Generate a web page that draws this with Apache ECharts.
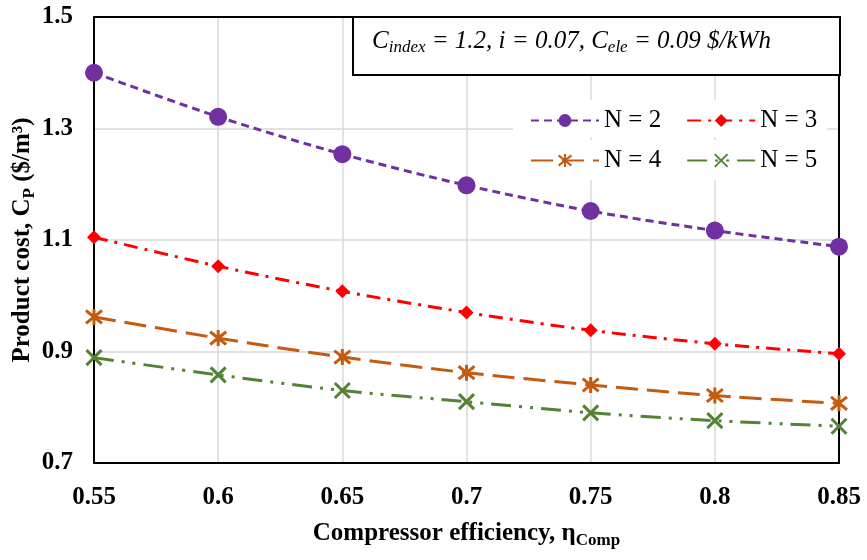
<!DOCTYPE html>
<html>
<head>
<meta charset="utf-8">
<script src="https://cdn.jsdelivr.net/npm/echarts@6/dist/echarts.min.js"></script>
<style>html,body{margin:0;padding:0;background:#fff;}#chart{width:867px;height:560px;}</style>
</head>
<body>
<div id="chart"></div>
<script>
var xValues = [0.55, 0.6, 0.65, 0.7, 0.75, 0.8, 0.85];
var seriesNames = ['N = 2', 'N = 3', 'N = 4', 'N = 5'];
var n2 = [1.400, 1.321, 1.254, 1.198, 1.152, 1.117, 1.088];
var n3 = [1.105, 1.053, 1.008, 0.970, 0.938, 0.914, 0.896];
var n4 = [0.962, 0.924, 0.890, 0.862, 0.840, 0.821, 0.807];
var n5 = [0.889, 0.858, 0.830, 0.810, 0.790, 0.776, 0.766];
var xTickLabels = ['0.55', '0.6', '0.65', '0.7', '0.75', '0.8', '0.85'];
var yTickLabels = ['0.7', '0.9', '1.1', '1.3', '1.5'];

var FONT = '"Liberation Serif", "Times New Roman", serif';
function pairs(arr) { return xValues.map(function (x, i) { return [x, arr[i]]; }); }

var chart = echarts.init(document.getElementById('chart'), null, {renderer: 'canvas'});

function mkSeries(name, arr, color, dash, symbol, size, filled) {
  return {
    name: name, type: 'line', data: pairs(arr), smooth: 0.3,
    xAxisIndex: 0, yAxisIndex: 0,
    symbol: symbol, symbolSize: size, showSymbol: true,
    lineStyle: {color: color, width: 3, type: dash},
    itemStyle: filled ? {color: color} : {color: color, borderColor: color, borderWidth: 3},
    emphasis: {disabled: true},
    z: 3
  };
}

var legendText = {fontFamily: FONT, fontSize: 25, color: '#000'};
var subStyle = {fontFamily: FONT, fontWeight: 'bold', fontSize: 17, lineHeight: 14, verticalAlign: 'bottom', color: '#000'};

var option = {
  animation: false,
  backgroundColor: '#fff',
  grid: {left: 94, right: 28, top: 17, bottom: 97, containLabel: false, outerBoundsMode: 'none'},
  xAxis: [{
    type: 'value', min: 0.55, max: 0.85, interval: 0.05,
    axisLine: {show: true, lineStyle: {color: '#000', width: 2}},
    axisTick: {show: false},
    splitLine: {show: true, lineStyle: {color: '#D9D9D9', width: 1.5}},
    axisLabel: {
      margin: 22, color: '#000', fontFamily: FONT, fontWeight: 'bold', fontSize: 25,
      formatter: function (v) { var i = Math.round((v - 0.55) / 0.05); return xTickLabels[i]; }
    },
    name: 'Compressor efficiency, η{s|Comp}',
    nameLocation: 'middle', nameGap: 56, nameMoveOverlap: false,
    nameTextStyle: {
      color: '#000', fontFamily: FONT, fontWeight: 'bold', fontSize: 25, lineHeight: 30,
      rich: {s: subStyle}
    }
  }, {
    type: 'value', min: 0.55, max: 0.85, position: 'top',
    axisLine: {show: true, onZero: false, lineStyle: {color: '#000', width: 2}},
    axisTick: {show: false}, axisLabel: {show: false}, splitLine: {show: false}
  }],
  yAxis: [{
    type: 'value', min: 0.7, max: 1.5, interval: 0.2,
    axisLine: {show: true, lineStyle: {color: '#000', width: 2}},
    axisTick: {show: false},
    splitLine: {show: true, lineStyle: {color: '#D9D9D9', width: 1.5}},
    axisLabel: {
      margin: 21, color: '#000', fontFamily: FONT, fontWeight: 'bold', fontSize: 25,
      formatter: function (v) { var i = Math.round((v - 0.7) / 0.2); return yTickLabels[i]; }
    },
    name: 'Product cost, C{s|P} ($/m³)',
    nameLocation: 'middle', nameGap: 56, nameRotate: 90, nameMoveOverlap: false,
    nameTextStyle: {
      color: '#000', fontFamily: FONT, fontWeight: 'bold', fontSize: 25, lineHeight: 30,
      rich: {s: subStyle}
    }
  }, {
    type: 'value', min: 0.7, max: 1.5, position: 'right',
    axisLine: {show: true, onZero: false, lineStyle: {color: '#000', width: 2}},
    axisTick: {show: false}, axisLabel: {show: false}, splitLine: {show: false}
  }],
  legend: [{
    data: [seriesNames[0], seriesNames[1]],
    left: 513, top: 100, orient: 'horizontal',
    itemWidth: 68, itemHeight: 16, itemGap: 25,
    padding: [8, 10, 4, 17],
    backgroundColor: '#fff',
    textStyle: legendText,
    selectedMode: false
  }, {
    data: [seriesNames[2], seriesNames[3]],
    left: 513, top: 140, orient: 'horizontal',
    itemWidth: 68, itemHeight: 16, itemGap: 25,
    padding: [8, 10, 7, 17],
    backgroundColor: '#fff',
    textStyle: legendText,
    selectedMode: false
  }],
  graphic: [{
    type: 'rect', left: 352, top: 16, z: 10,
    shape: {width: 487, height: 58},
    style: {fill: '#fff', stroke: '#000', lineWidth: 2}
  }, {
    type: 'text', left: 372, top: 29, z: 11,
    style: {
      text: '{c|C}{s|index}{c| = 1.2, i = 0.07, C}{s|ele}{c| = 0.09 $/kWh}',
      rich: {
        c: {fontFamily: FONT, fontStyle: 'italic', fontSize: 25, lineHeight: 30, fill: '#000'},
        s: {fontFamily: FONT, fontStyle: 'italic', fontSize: 17, lineHeight: 14, verticalAlign: 'bottom', fill: '#000'}
      }
    }
  }],
  series: [
    mkSeries(seriesNames[0], n2, '#7030A0', [8, 5], 'circle', 18, true),
    mkSeries(seriesNames[1], n3, '#FF0000', [14, 7, 3, 7], 'diamond', 14, true),
    mkSeries(seriesNames[2], n4, '#C55A11', [22, 9], 'path://M1,1L9,9M9,1L1,9M5,0L5,10', 16, false),
    mkSeries(seriesNames[3], n5, '#548235', [20, 8, 3, 8, 3, 8], 'path://M0,0L10,10M10,0L0,10', 15, false)
  ]
};
chart.setOption(option);
</script>
</body>
</html>
